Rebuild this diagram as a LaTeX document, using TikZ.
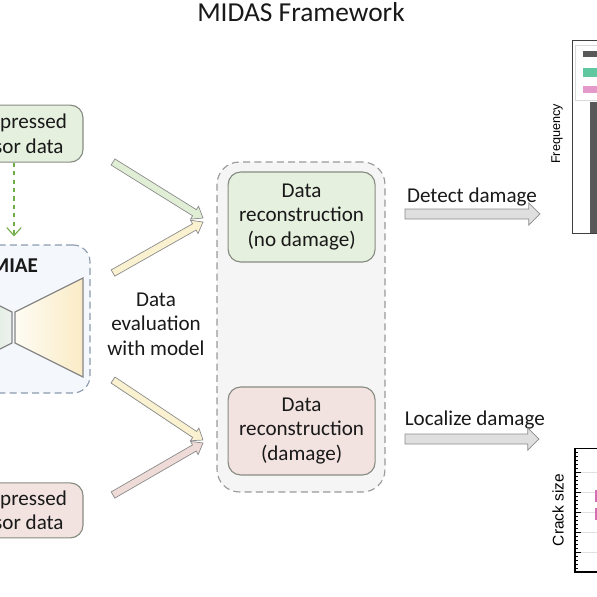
\documentclass[tikz,border=0pt]{standalone}
\usepackage{fontspec}
\setmainfont{Carlito}
\newfontfamily\plotfont{Liberation Sans}
\usetikzlibrary{arrows.meta,positioning,calc}
\definecolor{sage}{RGB}{230,240,222}
\definecolor{blush}{RGB}{242,226,224}
\definecolor{cream}{RGB}{250,241,208}
\definecolor{mist}{RGB}{244,247,251}
\definecolor{slate}{RGB}{140,155,175}
\definecolor{fog}{RGB}{245,245,245}
\definecolor{leaf}{RGB}{112,173,71}
\definecolor{rim}{RGB}{135,140,130}
\definecolor{ink}{RGB}{25,25,25}
\definecolor{teal}{RGB}{95,200,160}
\definecolor{rose}{RGB}{215,110,180}
\definecolor{sagearrow}{RGB}{224,238,214}
\definecolor{blusharrow}{RGB}{238,218,214}
\newcommand{\bodyfont}{\fontsize{15}{17.5}\selectfont}
\newcommand{\titlefont}{\fontsize{19.5}{22}\selectfont}
% block arrow: style, tail, tip, half shaft, half head, head length
\newcommand{\fatarrow}[6]{%
  \coordinate (fa-h) at ($(#3)!#6!(#2)$);
  \filldraw[#1] ($(#2)!#4!90:(#3)$) -- ($(fa-h)!#4!90:(#3)$) -- ($(fa-h)!#5!90:(#3)$)
    -- (#3) -- ($(fa-h)!#5!-90:(#3)$) -- ($(fa-h)!#4!-90:(#3)$) -- ($(#2)!#4!-90:(#3)$) -- cycle;
}
\tikzset{
  box/.style={draw=rim,fill=#1,rounded corners=9pt,line width=0.8pt,
    minimum width=3.675cm,minimum height=2.25cm,align=center,font=\bodyfont,text=ink},
  box/.default=sage,
  model/.style={draw=slate,fill=mist,dashed,dash pattern=on 5pt off 3pt,line width=0.8pt,rounded corners=12pt},
  group/.style={draw=gray!80,fill=fog,dashed,dash pattern=on 5pt off 3pt,line width=0.8pt,rounded corners=16pt},
  fat/.style={draw=gray!90,fill=#1,line width=0.5pt},
  fat/.default=gray!25,
  hint/.style={-{Straight Barb[length=2mm,width=3.6mm]},leaf,dashed,line width=0.8pt},
  label/.style={font=\bodyfont,text=ink,align=center},
  half/.style={draw=gray!95,line width=0.8pt},
  tick/.style={draw=black,line width=0.4pt},
}
\begin{document}
\begin{tikzpicture}
  \useasboundingbox (0,0) rectangle (14.925,-14.925);
  \clip (0,0) rectangle (14.925,-14.925);
  \node[font=\titlefont,text=ink] (title) at (7.525,-0.3) {MIDAS Framework};
  % inputs
  \node[box=sage,minimum width=3.45cm,minimum height=1.425cm] (csa) at (0.35,-3.34) {Compressed\\sensor data};
  \node[box=blush,minimum width=3.45cm,minimum height=1.375cm] (csb) at (0.35,-12.76) {Compressed\\sensor data};
  % MIAE model
  \node[model,minimum width=4.75cm,minimum height=3.7cm] (miae) at (-0.125,-7.975) {};
  \node[font=\bodyfont\bfseries,text=ink] (miaelbl) at (0.36,-6.63) {MIAE};
  \shadedraw[half,left color=green!45!gray!35,right color=green!10!gray!12] (-1.4,-6.95) -- (0.3,-7.8) -- (0.3,-8.575) -- (-1.4,-9.425) -- cycle;
  \shadedraw[half,left color=cream!25,right color=cream!95!orange] (0.375,-7.8) -- (2.075,-6.95) -- (2.075,-9.425) -- (0.375,-8.575) -- cycle;
  \draw[hint,shorten >=0.2cm] (csa.south) -- (csa.south |- miae.north);
  % evaluation
  \node[group,minimum width=4.2cm,minimum height=8.25cm] (eval) at (7.525,-8.175) {};
  \node[box=sage] (recok) at (7.54,-5.425) {Data\\reconstruction\\(no damage)};
  \node[box=blush,minimum height=2.2cm] (recdmg) at (7.54,-10.775) {Data\\reconstruction\\(damage)};
  \node[label] (evallbl) at (3.9,-8.1) {Data\\evaluation\\with model};
  \coordinate (ta) at (2.825,-4.05);  \coordinate (pa) at (5.075,-5.45);
  \coordinate (tb) at (2.825,-6.825); \coordinate (pb) at (5.075,-5.55);
  \coordinate (tc) at (2.825,-9.5);   \coordinate (pc) at (5.075,-11.0);
  \coordinate (td) at (2.825,-12.375);\coordinate (pd) at (5.075,-11.075);
  \fatarrow{fat=sagearrow}{ta}{pa}{0.09cm}{0.19cm}{0.25cm}
  \fatarrow{fat=cream}{tb}{pb}{0.09cm}{0.19cm}{0.25cm}
  \fatarrow{fat=cream}{tc}{pc}{0.09cm}{0.19cm}{0.25cm}
  \fatarrow{fat=blusharrow}{td}{pd}{0.09cm}{0.19cm}{0.25cm}
  % outputs
  \node[label] (detect) at (11.8,-4.93) {Detect damage};
  \node[label] (locate) at (11.87,-10.5) {Localize damage};
  \coordinate (ds) at (10.125,-5.35);  \coordinate (de) at (13.5,-5.35);
  \coordinate (ls) at (10.125,-10.975); \coordinate (le) at (13.475,-10.975);
  \fatarrow{fat}{ds}{de}{0.125cm}{0.275cm}{0.28cm}
  \fatarrow{fat}{ls}{le}{0.125cm}{0.275cm}{0.28cm}
  % histogram
  \draw[black!75,line width=0.5pt] (14.3,-1.0) rectangle (15.5,-5.825);
  \node[font=\plotfont\fontsize{9}{10}\selectfont,rotate=90] (freq) at (13.93,-3.35) {Frequency};
  \fill[black!65] (14.75,-2.55) rectangle (15.1,-5.825);
  \draw[black!15,fill=white,line width=0.4pt] (14.375,-1.125) rectangle (15.2,-2.5);
  \fill[black!65] (14.575,-1.275) rectangle (15.1,-1.425);
  \fill[teal] (14.575,-1.7) rectangle (15.1,-1.925);
  \fill[rose!70] (14.575,-2.15) rectangle (15.1,-2.325);
  % crack size plot
  \foreach \y in {-11.8,-12.3,-12.8,-13.3,-13.8} {
    \draw[black!12,line width=0.4pt] (14.375,\y) -- (15.2,\y);
    \draw[tick] (14.375,\y) -- (14.52,\y);
  }
  \foreach \y in {-11.3,-11.4,...,-14.2} \draw[tick] (14.375,\y) -- (14.45,\y);
  \draw[black,line width=0.5pt] (14.375,-11.2) -- (15.2,-11.2);
  \draw[black,line width=1.2pt] (14.375,-11.2) -- (14.375,-14.3) -- (15.2,-14.3);
  \fill[rose] (14.875,-12.25) rectangle (15.1,-12.55);
  \fill[rose] (14.875,-12.7) rectangle (15.1,-13.0);
  \node[font=\plotfont\fontsize{11}{12}\selectfont,rotate=90] (crack) at (13.95,-12.75) {Crack size};
\end{tikzpicture}
\end{document}
